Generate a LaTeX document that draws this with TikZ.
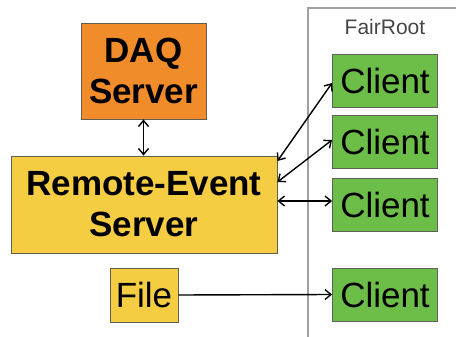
\documentclass[tikz,border=0pt]{standalone}
\usepackage{fontspec}
\setmainfont{Liberation Sans}
\usetikzlibrary{arrows.meta}
\definecolor{daqorange}{RGB}{240,140,42}
\definecolor{serveryellow}{RGB}{245,205,66}
\definecolor{clientgreen}{RGB}{108,190,72}
\definecolor{boxline}{RGB}{95,95,85}
\definecolor{framegray}{RGB}{160,160,160}
\definecolor{labelgray}{RGB}{70,70,70}
\begin{document}
\begin{tikzpicture}[x=1pt,y=-1pt,
  box/.style={draw=boxline, line width=0.9pt, inner sep=0pt, align=center},
  bigbold/.style={font=\fontsize{35}{41}\selectfont\bfseries},
  plain/.style={font=\fontsize{35}{41}\selectfont},
  daqbox/.style={box, bigbold, fill=daqorange, minimum width=125pt, minimum height=96pt},
  serverbox/.style={box, bigbold, fill=serveryellow, minimum width=266pt, minimum height=97pt},
  filebox/.style={box, plain, fill=serveryellow, minimum width=68pt, minimum height=54pt},
  clientbox/.style={box, plain, fill=clientgreen, minimum width=105pt, minimum height=53pt},
  link/.style={line width=1.4pt, black},
  twoway/.style={link, {Straight Barb[length=6pt,width=10pt]}-{Straight Barb[length=6pt,width=10pt]}},
  oneway/.style={link, -{Straight Barb[length=6pt,width=10pt]}}
]
\useasboundingbox (0,0) rectangle (456,337);
\fill[white] (0,0) rectangle (456,337);

% FairRoot frame
\draw[framegray, line width=1.2pt] (456,8) -- (308,8) -- (308,337);
\node[font=\fontsize{21}{24}\selectfont, text=labelgray] (fairroot) at (385,27) {FairRoot};

% servers
\node[daqbox] (daq) at (143.5,71) {DAQ\\Server};
\node[serverbox] (remote) at (144,204.5) {Remote-Event\\Server};
\node[filebox] (file) at (144,295) {File};

% clients
\node[clientbox] (c1) at (385,80.5) {Client};
\node[clientbox] (c2) at (385,142) {Client};
\node[clientbox] (c3) at (385,205) {Client};
\node[clientbox] (c4) at (385,294.5) {Client};

% connectors
\draw[twoway] (daq.south) -- (daq.south |- remote.north);
\draw[twoway] ([yshift=43.5pt]remote.east) -- ([yshift=-2.5pt]c1.west);
\draw[twoway] ([yshift=22.5pt]remote.east) -- ([yshift=2pt]c2.west);
\draw[twoway] ([yshift=3.5pt]remote.east) -- ([yshift=4pt]c3.west);
\draw[oneway] (file.east) -- (c4.west);
\end{tikzpicture}
\end{document}
